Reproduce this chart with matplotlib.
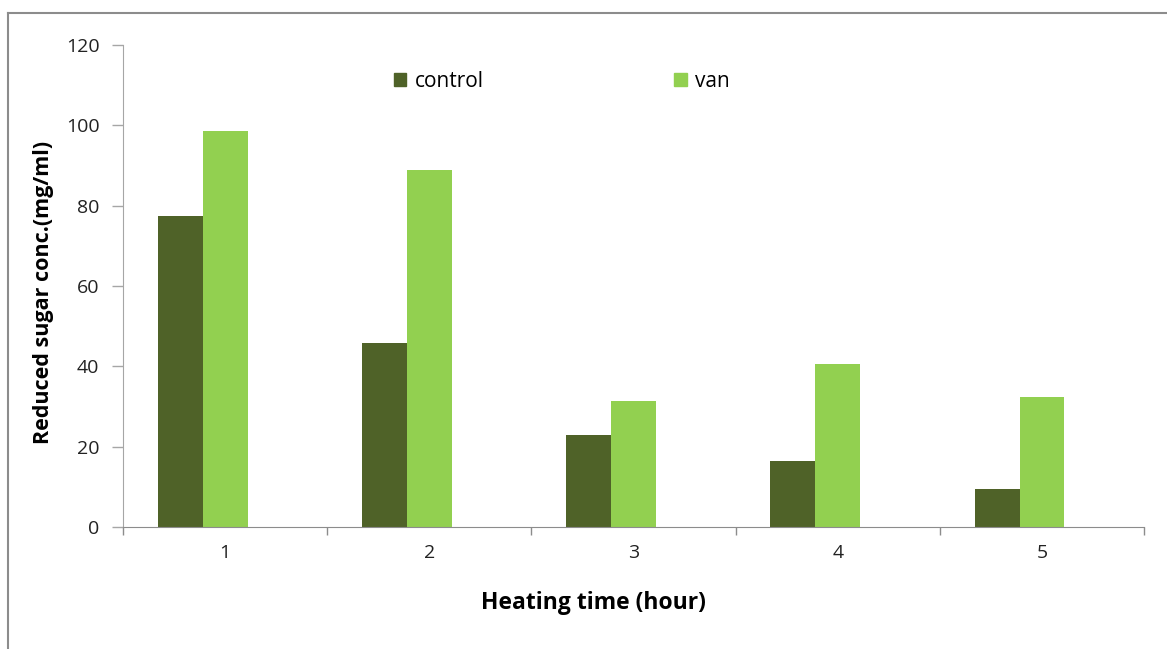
import matplotlib
matplotlib.use('Agg')
import matplotlib.pyplot as plt
from matplotlib.patches import Patch
from matplotlib.lines import Line2D
import numpy as np

plt.rcParams['font.family'] = ['Open Sans', 'DejaVu Sans']

# data
hours = ['1', '2', '3', '4', '5']
control = [77.4, 45.8, 22.8, 16.4, 9.5]
van = [98.7, 88.9, 31.4, 40.7, 32.4]

COLORS = {'control': '#4F6228', 'van': '#92D050'}
AXIS_GRAY = '#8C8C8C'

fig = plt.figure(figsize=(11.67, 6.49), dpi=100)
ax = fig.add_axes([0.1054, 0.188, 0.875, 0.7427])

x = np.arange(1, len(hours) + 1)
w = 0.22
# Excel layout: bars sit as the 1st and 2nd of three slots per category
ax.bar(x - w, control, width=w, color=COLORS['control'], label='control')
ax.bar(x, van, width=w, color=COLORS['van'], label='van')

ax.set_xlim(0.5, 5.5)
ax.set_ylim(0, 120)
ax.set_yticks(range(0, 121, 20))
ax.set_xticks(x)
ax.set_xticklabels(hours)
ax.set_xticks(np.arange(0.5, 5.6, 1.0), minor=True)

ax.tick_params(axis='x', which='major', length=0, pad=12, labelsize=14,
               colors='#222222')
ax.tick_params(axis='x', which='minor', length=6, color=AXIS_GRAY, width=1)
ax.tick_params(axis='y', length=8, color='#A6A6A6', width=1, pad=9,
               labelsize=14, labelcolor='#222222')

for s in ['top', 'right']:
    ax.spines[s].set_visible(False)
ax.spines['left'].set_color('#A6A6A6')
ax.spines['bottom'].set_color(AXIS_GRAY)

ax.set_xlabel('Heating time (hour)', fontsize=16.5, fontweight='bold')
ax.xaxis.set_label_coords(0.461, -0.132)
ax.set_ylabel('Reduced sugar conc.(mg/ml)', fontsize=15.5, fontweight='bold')
ax.yaxis.set_label_coords(-0.068, 0.487)

handles = [Patch(color=COLORS['control'], label='control'),
           Patch(color=COLORS['van'], label='van')]
ax.legend(handles=handles, ncol=2, loc='center left', frameon=False,
          bbox_to_anchor=(0.247, 0.925), fontsize=15,
          handlelength=0.6, handleheight=0.6, handletextpad=0.4,
          columnspacing=9.15)

# outer frame (only top and left edges visible in the reference)
fig.add_artist(Line2D([0.0069, 0.0069], [0.0, 0.98], color=AXIS_GRAY,
                      lw=1.5, transform=fig.transFigure))
fig.add_artist(Line2D([0.0069, 1.0], [0.98, 0.98], color=AXIS_GRAY,
                      lw=1.5, transform=fig.transFigure))

fig.savefig('out.png', dpi=100)
plt.close(fig)
